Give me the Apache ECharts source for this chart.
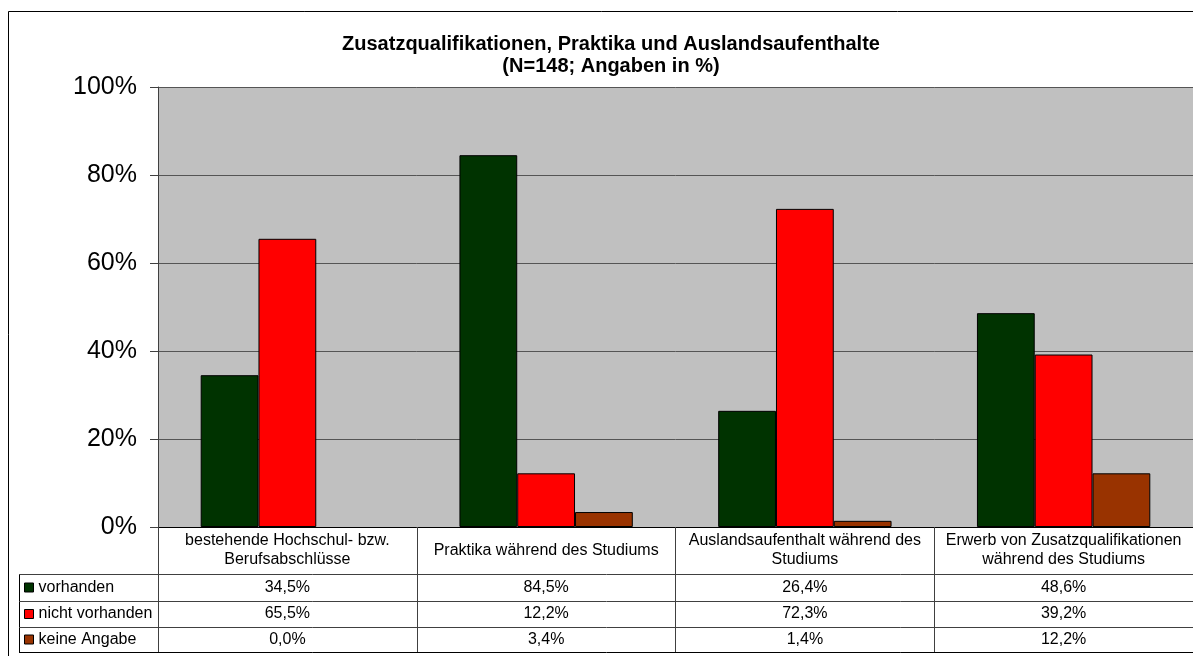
<!DOCTYPE html>
<html>
<head>
<meta charset="utf-8">
<title>Zusatzqualifikationen, Praktika und Auslandsaufenthalte</title>
<script src="https://cdn.jsdelivr.net/npm/echarts@6/dist/echarts.min.js"></script>
<style>
  html, body { margin: 0; padding: 0; background: #fff; }
  #chart { width: 1193px; height: 656px; }
</style>
</head>
<body>
<div id="chart"></div>
<script>
// Kategorien (X-Achse) und Werte in Prozent
const categories = [
  'bestehende Hochschul- bzw.\nBerufsabschlüsse',
  'Praktika während des Studiums',
  'Auslandsaufenthalt während des\nStudiums',
  'Erwerb von Zusatzqualifikationen\nwährend des Studiums'
]
const seriesNames = ['vorhanden', 'nicht vorhanden', 'keine Angabe']
const vorhanden = [34.5, 84.5, 26.4, 48.6]
const nichtVorhanden = [65.5, 12.2, 72.3, 39.2]
const keineAngabe = [0.0, 3.4, 1.4, 12.2]
const yTicks = [0, 20, 40, 60, 80, 100]

const colors = ['#003300', '#FF0000', '#993300']
const font = "'Liberation Sans', Arial, sans-serif"

// Tabellen-Layout (Datentabelle unter dem Diagramm)
const gridLeft = 158
const gridTop = 87
const axisY = 527
const headerH = 47
const rowH = [27, 26, 25]
const tableLeft = 19

function pct(v) {
  return v.toFixed(1).replace('.', ',') + '%'
}

const chart = echarts.init(document.getElementById('chart'))

const rowValues = [vorhanden, nichtVorhanden, keineAngabe]
const seriesData = [vorhanden, nichtVorhanden, keineAngabe]

// Zeilengrenzen der Tabelle
const rowLines = [axisY + headerH]
rowH.forEach(h => rowLines.push(rowLines[rowLines.length - 1] + h))

// zusätzliche X-Achsen nur für die Wertezeilen
const valueAxes = rowValues.map((vals, r) => {
  const center = rowLines[r] + rowH[r] / 2
  return {
    type: 'category',
    data: categories,
    position: 'bottom',
    axisLine: { show: false },
    axisTick: { show: false },
    axisLabel: {
      interval: 0,
      margin: center - axisY,
      verticalAlign: 'middle',
      color: '#000',
      fontSize: 16,
      fontFamily: font,
      formatter: (v, i) => pct(vals[i])
    }
  }
})

// je Tabellenzeile eine eigene Legende (Farbschlüssel links)
const legends = seriesNames.map((name, r) => ({
  data: [name],
  left: 24,
  top: rowLines[r] + rowH[r] / 2 - 8,
  padding: 0,
  itemWidth: 9,
  itemHeight: 9,
  icon: 'rect',
  selectedMode: false,
  itemStyle: { borderColor: '#000', borderWidth: 1 },
  textStyle: { color: '#000', fontSize: 16, fontFamily: font, lineHeight: 16 }
}))

const graphics = [
  {
    type: 'rect',
    silent: true,
    shape: { x: 8.5, y: 11.5, width: 1200, height: 660 },
    style: { fill: 'none', stroke: '#000', lineWidth: 1 }
  },
  {
    type: 'line',
    silent: true,
    shape: { x1: tableLeft + 0.5, y1: rowLines[0], x2: tableLeft + 0.5, y2: rowLines[3] + 0.5 },
    style: { stroke: '#000', lineWidth: 1 }
  }
]
rowLines.forEach((y, i) => {
  graphics.push({
    type: 'line',
    silent: true,
    shape: { x1: tableLeft, y1: y + 0.5, x2: 1200, y2: y + 0.5 },
    style: { stroke: i === 3 ? '#000' : '#404040', lineWidth: 1 }
  })
})

const option = {
  animation: false,
  backgroundColor: '#fff',
  title: {
    text: 'Zusatzqualifikationen, Praktika und Auslandsaufenthalte\n(N=148; Angaben in %)',
    left: 606,
    top: 28,
    textAlign: 'center',
    textStyle: {
      color: '#000',
      fontSize: 20,
      fontWeight: 'bold',
      fontFamily: font,
      lineHeight: 22
    }
  },
  legend: legends,
  grid: {
    left: gridLeft,
    top: gridTop,
    right: -2,
    bottom: 656 - axisY,
    show: true,
    backgroundColor: '#C0C0C0',
    borderWidth: 0
  },
  xAxis: [
    {
      type: 'category',
      data: categories,
      position: 'bottom',
      axisLine: { show: true, lineStyle: { color: '#000', width: 1 } },
      axisTick: { show: true, length: rowLines[3] - axisY, lineStyle: { color: '#404040' } },
      axisLabel: {
        interval: 0,
        margin: headerH / 2,
        verticalAlign: 'middle',
        lineHeight: 19,
        color: '#000',
        fontSize: 16,
        fontFamily: font
      }
    }
  ].concat(valueAxes),
  yAxis: {
    type: 'value',
    min: yTicks[0],
    max: yTicks[yTicks.length - 1],
    interval: 20,
    axisLine: { show: true, lineStyle: { color: '#404040', width: 1 } },
    axisTick: { show: true, length: 8, lineStyle: { color: '#404040' } },
    axisLabel: {
      margin: 21,
      color: '#000',
      fontSize: 25,
      fontFamily: font,
      formatter: '{value}%'
    },
    splitLine: { show: true, lineStyle: { color: '#555555', width: 1 } }
  },
  graphic: graphics,
  series: seriesNames.map((name, i) => ({
    name: name,
    type: 'bar',
    data: seriesData[i].map(v => ({
      value: v,
      // Nullwerte ohne Rahmen, damit kein Strich erscheint
      itemStyle: v === 0 ? { borderWidth: 0 } : undefined
    })),
    barGap: '0%',
    barCategoryGap: '33%',
    itemStyle: { color: colors[i], borderColor: '#000', borderWidth: 1 }
  }))
}

chart.setOption(option)
</script>
</body>
</html>
